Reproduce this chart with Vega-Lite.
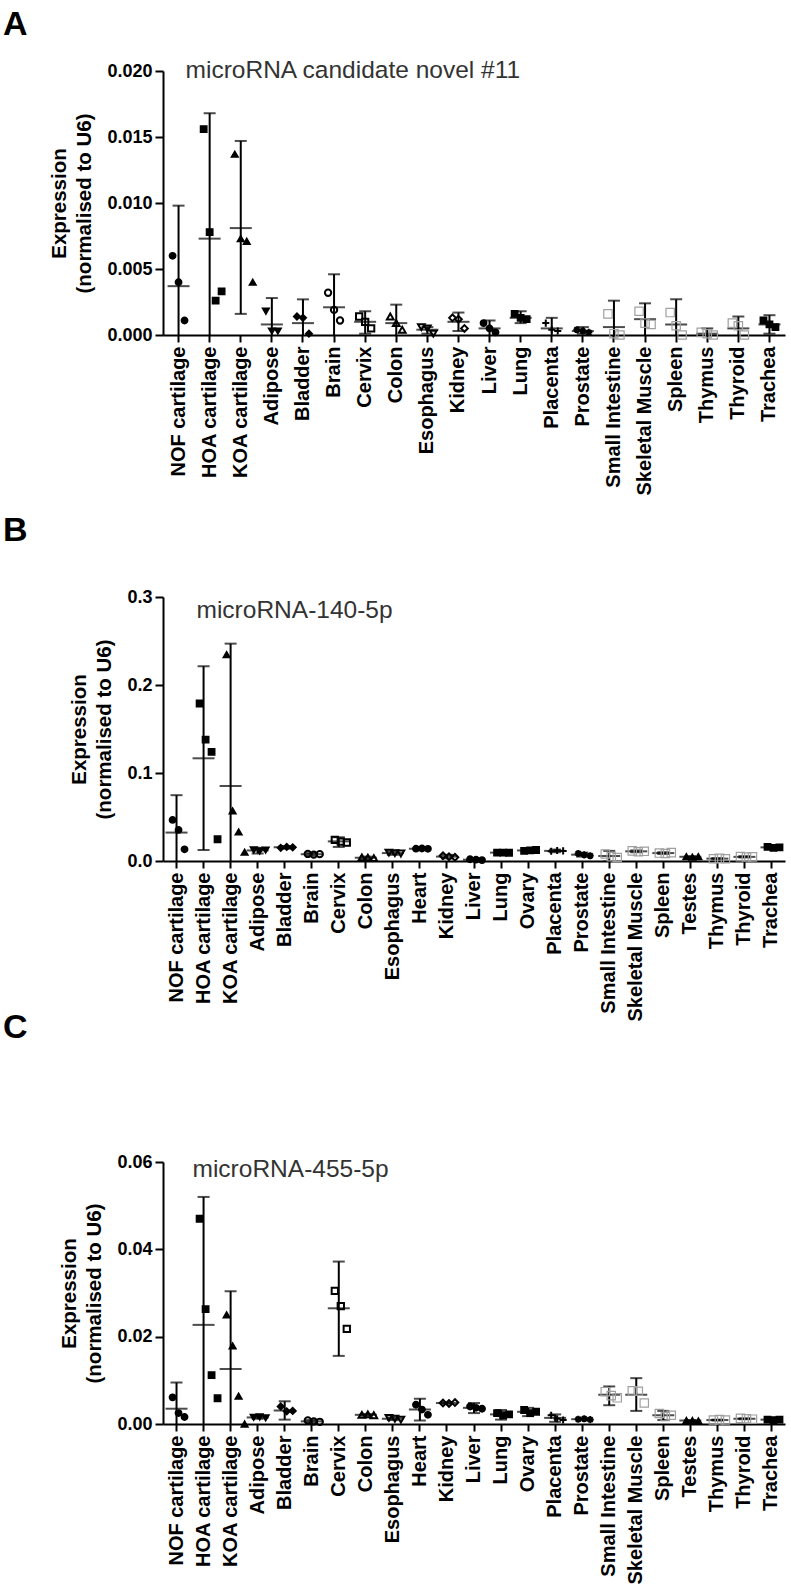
{
  "$schema": "https://vega.github.io/schema/vega-lite/v6.json",
  "padding": {"left": 3, "top": 8, "right": 3, "bottom": 3},
  "spacing": -10,
  "config": {
    "view": {"stroke": null},
    "font": "Liberation Sans",
    "axis": {"domainColor": "black", "domainWidth": 2, "tickColor": "black", "tickWidth": 2, "labelColor": "black", "labelFont": "Liberation Sans", "labelFontWeight": "bold", "titleFont": "Liberation Sans", "titleColor": "black", "grid": false},
    "title": {"font": "Liberation Sans", "color": "black"}
  },
  "datasets": {
    "sumA": [
      {"cat": "NOF cartilage", "mean": 0.0037, "lo": -0.0024, "hi": 0.0098},
      {"cat": "HOA cartilage", "mean": 0.0073, "lo": -0.0022, "hi": 0.0168},
      {"cat": "KOA cartilage", "mean": 0.0081, "lo": 0.0016, "hi": 0.0147},
      {"cat": "Adipose", "mean": 0.0008, "lo": -0.0013, "hi": 0.0028},
      {"cat": "Bladder", "mean": 0.0009, "lo": -0.0009, "hi": 0.0027},
      {"cat": "Brain", "mean": 0.0021, "lo": -0.0004, "hi": 0.0046},
      {"cat": "Cervix", "mean": 0.001, "lo": 0.0001, "hi": 0.0018},
      {"cat": "Colon", "mean": 0.0009, "lo": -0.0005, "hi": 0.0023},
      {"cat": "Esophagus", "mean": 0.0004, "lo": 0.0001, "hi": 0.0006},
      {"cat": "Kidney", "mean": 0.001, "lo": 0.0003, "hi": 0.0017},
      {"cat": "Liver", "mean": 0.0005, "lo": -0.0001, "hi": 0.0011},
      {"cat": "Lung", "mean": 0.0013, "lo": 0.0009, "hi": 0.0018},
      {"cat": "Placenta", "mean": 0.0005, "lo": -0.0003, "hi": 0.0013},
      {"cat": "Prostate", "mean": 0.0003, "lo": 0.0001, "hi": 0.0006},
      {"cat": "Small Intestine", "mean": 0.0006, "lo": -0.0015, "hi": 0.0026},
      {"cat": "Skeletal Muscle", "mean": 0.0012, "lo": -0.0001, "hi": 0.0024},
      {"cat": "Spleen", "mean": 0.0008, "lo": -0.0011, "hi": 0.0027},
      {"cat": "Thymus", "mean": 0.0001, "lo": -0.0003, "hi": 0.0005},
      {"cat": "Thyroid", "mean": 0.0005, "lo": -0.0004, "hi": 0.0014},
      {"cat": "Trachea", "mean": 0.0008, "lo": 0.0001, "hi": 0.0015}
    ],
    "ptsA": [
      {"cat": "NOF cartilage", "rep": 1, "value": 0.006}, {"cat": "NOF cartilage", "rep": 2, "value": 0.004}, {"cat": "NOF cartilage", "rep": 3, "value": 0.0011},
      {"cat": "HOA cartilage", "rep": 1, "value": 0.0156}, {"cat": "HOA cartilage", "rep": 2, "value": 0.0078}, {"cat": "HOA cartilage", "rep": 3, "value": 0.0026}, {"cat": "HOA cartilage", "rep": 4, "value": 0.0033},
      {"cat": "KOA cartilage", "rep": 1, "value": 0.0137}, {"cat": "KOA cartilage", "rep": 2, "value": 0.0073}, {"cat": "KOA cartilage", "rep": 3, "value": 0.0071}, {"cat": "KOA cartilage", "rep": 4, "value": 0.004},
      {"cat": "Adipose", "rep": 1, "value": 0.0018}, {"cat": "Adipose", "rep": 2, "value": 0.0003}, {"cat": "Adipose", "rep": 3, "value": 0.0003},
      {"cat": "Bladder", "rep": 1, "value": 0.0014}, {"cat": "Bladder", "rep": 2, "value": 0.0013}, {"cat": "Bladder", "rep": 3, "value": 0.0001},
      {"cat": "Brain", "rep": 1, "value": 0.0032}, {"cat": "Brain", "rep": 2, "value": 0.0019}, {"cat": "Brain", "rep": 3, "value": 0.0011},
      {"cat": "Cervix", "rep": 1, "value": 0.0014}, {"cat": "Cervix", "rep": 2, "value": 0.001}, {"cat": "Cervix", "rep": 3, "value": 0.0005},
      {"cat": "Colon", "rep": 1, "value": 0.0014}, {"cat": "Colon", "rep": 2, "value": 0.0009}, {"cat": "Colon", "rep": 3, "value": 0.0004},
      {"cat": "Esophagus", "rep": 1, "value": 0.0006}, {"cat": "Esophagus", "rep": 2, "value": 0.0005}, {"cat": "Esophagus", "rep": 3, "value": 0.0001},
      {"cat": "Kidney", "rep": 1, "value": 0.0013}, {"cat": "Kidney", "rep": 2, "value": 0.0012}, {"cat": "Kidney", "rep": 3, "value": 0.0005},
      {"cat": "Liver", "rep": 1, "value": 0.0009}, {"cat": "Liver", "rep": 2, "value": 0.0005}, {"cat": "Liver", "rep": 3, "value": 0.0002},
      {"cat": "Lung", "rep": 1, "value": 0.0016}, {"cat": "Lung", "rep": 2, "value": 0.0013}, {"cat": "Lung", "rep": 3, "value": 0.0012},
      {"cat": "Placenta", "rep": 1, "value": 0.0009}, {"cat": "Placenta", "rep": 2, "value": 0.0004}, {"cat": "Placenta", "rep": 3, "value": 0.0003},
      {"cat": "Prostate", "rep": 1, "value": 0.0004}, {"cat": "Prostate", "rep": 2, "value": 0.0003}, {"cat": "Prostate", "rep": 3, "value": 0.0002},
      {"cat": "Small Intestine", "rep": 1, "value": 0.0016}, {"cat": "Small Intestine", "rep": 2, "value": 0.0001}, {"cat": "Small Intestine", "rep": 3, "value": 0.0},
      {"cat": "Skeletal Muscle", "rep": 1, "value": 0.0018}, {"cat": "Skeletal Muscle", "rep": 2, "value": 0.0009}, {"cat": "Skeletal Muscle", "rep": 3, "value": 0.0008},
      {"cat": "Spleen", "rep": 1, "value": 0.0017}, {"cat": "Spleen", "rep": 2, "value": 0.0007}, {"cat": "Spleen", "rep": 3, "value": 0.0},
      {"cat": "Thymus", "rep": 1, "value": 0.0002}, {"cat": "Thymus", "rep": 2, "value": 0.0001}, {"cat": "Thymus", "rep": 3, "value": 0.0},
      {"cat": "Thyroid", "rep": 1, "value": 0.0009}, {"cat": "Thyroid", "rep": 2, "value": 0.0007}, {"cat": "Thyroid", "rep": 3, "value": 0.0},
      {"cat": "Trachea", "rep": 1, "value": 0.0011}, {"cat": "Trachea", "rep": 2, "value": 0.0008}, {"cat": "Trachea", "rep": 3, "value": 0.0006}
    ],
    "sumB": [
      {"cat": "NOF cartilage", "mean": 0.0323, "lo": -0.01, "hi": 0.0748},
      {"cat": "HOA cartilage", "mean": 0.1167, "lo": 0.0125, "hi": 0.2213},
      {"cat": "KOA cartilage", "mean": 0.0852, "lo": -0.077, "hi": 0.247},
      {"cat": "Adipose", "mean": 0.012, "lo": 0.0085, "hi": 0.015},
      {"cat": "Bladder", "mean": 0.0155, "lo": 0.014, "hi": 0.017},
      {"cat": "Brain", "mean": 0.0077, "lo": 0.006, "hi": 0.009},
      {"cat": "Cervix", "mean": 0.0223, "lo": 0.016, "hi": 0.027},
      {"cat": "Colon", "mean": 0.0037, "lo": 0.002, "hi": 0.005},
      {"cat": "Esophagus", "mean": 0.009, "lo": 0.007, "hi": 0.011},
      {"cat": "Heart", "mean": 0.014, "lo": 0.013, "hi": 0.015},
      {"cat": "Kidney", "mean": 0.005, "lo": 0.003, "hi": 0.007},
      {"cat": "Liver", "mean": 0.0015, "lo": 0.0005, "hi": 0.0025},
      {"cat": "Lung", "mean": 0.0095, "lo": 0.009, "hi": 0.01},
      {"cat": "Ovary", "mean": 0.012, "lo": 0.011, "hi": 0.013},
      {"cat": "Placenta", "mean": 0.0115, "lo": 0.01, "hi": 0.013},
      {"cat": "Prostate", "mean": 0.0072, "lo": 0.005, "hi": 0.0095},
      {"cat": "Small Intestine", "mean": 0.0057, "lo": -0.0005, "hi": 0.0115},
      {"cat": "Skeletal Muscle", "mean": 0.011, "lo": 0.01, "hi": 0.012},
      {"cat": "Spleen", "mean": 0.009, "lo": 0.008, "hi": 0.01},
      {"cat": "Testes", "mean": 0.0048, "lo": 0.004, "hi": 0.0055},
      {"cat": "Thymus", "mean": 0.0027, "lo": 0.002, "hi": 0.0033},
      {"cat": "Thyroid", "mean": 0.0047, "lo": 0.004, "hi": 0.0055},
      {"cat": "Trachea", "mean": 0.0155, "lo": 0.0145, "hi": 0.0165}
    ],
    "ptsB": [
      {"cat": "NOF cartilage", "rep": 1, "value": 0.0467}, {"cat": "NOF cartilage", "rep": 2, "value": 0.0353}, {"cat": "NOF cartilage", "rep": 3, "value": 0.0133},
      {"cat": "HOA cartilage", "rep": 1, "value": 0.179}, {"cat": "HOA cartilage", "rep": 2, "value": 0.138}, {"cat": "HOA cartilage", "rep": 3, "value": 0.124}, {"cat": "HOA cartilage", "rep": 4, "value": 0.0247},
      {"cat": "KOA cartilage", "rep": 1, "value": 0.2346}, {"cat": "KOA cartilage", "rep": 2, "value": 0.057}, {"cat": "KOA cartilage", "rep": 3, "value": 0.033}, {"cat": "KOA cartilage", "rep": 4, "value": 0.01},
      {"cat": "Adipose", "rep": 1, "value": 0.0125}, {"cat": "Adipose", "rep": 2, "value": 0.0112}, {"cat": "Adipose", "rep": 3, "value": 0.0123},
      {"cat": "Bladder", "rep": 1, "value": 0.015}, {"cat": "Bladder", "rep": 2, "value": 0.016}, {"cat": "Bladder", "rep": 3, "value": 0.0155},
      {"cat": "Brain", "rep": 1, "value": 0.008}, {"cat": "Brain", "rep": 2, "value": 0.0072}, {"cat": "Brain", "rep": 3, "value": 0.0078},
      {"cat": "Cervix", "rep": 1, "value": 0.024}, {"cat": "Cervix", "rep": 2, "value": 0.022}, {"cat": "Cervix", "rep": 3, "value": 0.021},
      {"cat": "Colon", "rep": 1, "value": 0.004}, {"cat": "Colon", "rep": 2, "value": 0.0038}, {"cat": "Colon", "rep": 3, "value": 0.0033},
      {"cat": "Esophagus", "rep": 1, "value": 0.0095}, {"cat": "Esophagus", "rep": 2, "value": 0.009}, {"cat": "Esophagus", "rep": 3, "value": 0.0085},
      {"cat": "Heart", "rep": 1, "value": 0.014}, {"cat": "Heart", "rep": 2, "value": 0.0142}, {"cat": "Heart", "rep": 3, "value": 0.0138},
      {"cat": "Kidney", "rep": 1, "value": 0.006}, {"cat": "Kidney", "rep": 2, "value": 0.0048}, {"cat": "Kidney", "rep": 3, "value": 0.0042},
      {"cat": "Liver", "rep": 1, "value": 0.002}, {"cat": "Liver", "rep": 2, "value": 0.0015}, {"cat": "Liver", "rep": 3, "value": 0.001},
      {"cat": "Lung", "rep": 1, "value": 0.0095}, {"cat": "Lung", "rep": 2, "value": 0.0096}, {"cat": "Lung", "rep": 3, "value": 0.0094},
      {"cat": "Ovary", "rep": 1, "value": 0.0115}, {"cat": "Ovary", "rep": 2, "value": 0.012}, {"cat": "Ovary", "rep": 3, "value": 0.0125},
      {"cat": "Placenta", "rep": 1, "value": 0.011}, {"cat": "Placenta", "rep": 2, "value": 0.012}, {"cat": "Placenta", "rep": 3, "value": 0.0115},
      {"cat": "Prostate", "rep": 1, "value": 0.0085}, {"cat": "Prostate", "rep": 2, "value": 0.007}, {"cat": "Prostate", "rep": 3, "value": 0.006},
      {"cat": "Small Intestine", "rep": 1, "value": 0.008}, {"cat": "Small Intestine", "rep": 2, "value": 0.005}, {"cat": "Small Intestine", "rep": 3, "value": 0.004},
      {"cat": "Skeletal Muscle", "rep": 1, "value": 0.0115}, {"cat": "Skeletal Muscle", "rep": 2, "value": 0.0105}, {"cat": "Skeletal Muscle", "rep": 3, "value": 0.011},
      {"cat": "Spleen", "rep": 1, "value": 0.009}, {"cat": "Spleen", "rep": 2, "value": 0.0085}, {"cat": "Spleen", "rep": 3, "value": 0.0095},
      {"cat": "Testes", "rep": 1, "value": 0.005}, {"cat": "Testes", "rep": 2, "value": 0.0045}, {"cat": "Testes", "rep": 3, "value": 0.005},
      {"cat": "Thymus", "rep": 1, "value": 0.0025}, {"cat": "Thymus", "rep": 2, "value": 0.003}, {"cat": "Thymus", "rep": 3, "value": 0.0025},
      {"cat": "Thyroid", "rep": 1, "value": 0.005}, {"cat": "Thyroid", "rep": 2, "value": 0.0045}, {"cat": "Thyroid", "rep": 3, "value": 0.0047},
      {"cat": "Trachea", "rep": 1, "value": 0.016}, {"cat": "Trachea", "rep": 2, "value": 0.015}, {"cat": "Trachea", "rep": 3, "value": 0.0155}
    ],
    "sumC": [
      {"cat": "NOF cartilage", "mean": 0.0035, "lo": -0.0025, "hi": 0.0095},
      {"cat": "HOA cartilage", "mean": 0.0227, "lo": -0.0066, "hi": 0.052},
      {"cat": "KOA cartilage", "mean": 0.0126, "lo": -0.0052, "hi": 0.0304},
      {"cat": "Adipose", "mean": 0.0015, "lo": 0.0012, "hi": 0.0018},
      {"cat": "Bladder", "mean": 0.0031, "lo": 0.001, "hi": 0.0052},
      {"cat": "Brain", "mean": 0.0006, "lo": 0.0003, "hi": 0.0009},
      {"cat": "Cervix", "mean": 0.0265, "lo": 0.0156, "hi": 0.0372},
      {"cat": "Colon", "mean": 0.0021, "lo": 0.0019, "hi": 0.0023},
      {"cat": "Esophagus", "mean": 0.0012, "lo": 0.0009, "hi": 0.0015},
      {"cat": "Heart", "mean": 0.0033, "lo": 0.0008, "hi": 0.0058},
      {"cat": "Kidney", "mean": 0.0048, "lo": 0.0046, "hi": 0.005},
      {"cat": "Liver", "mean": 0.0037, "lo": 0.0025, "hi": 0.0048},
      {"cat": "Lung", "mean": 0.0022, "lo": 0.001, "hi": 0.0032},
      {"cat": "Ovary", "mean": 0.0028, "lo": 0.0018, "hi": 0.0037},
      {"cat": "Placenta", "mean": 0.0014, "lo": 0.0005, "hi": 0.0022},
      {"cat": "Prostate", "mean": 0.0011, "lo": 0.0009, "hi": 0.0013},
      {"cat": "Small Intestine", "mean": 0.0067, "lo": 0.0043, "hi": 0.0086},
      {"cat": "Skeletal Muscle", "mean": 0.0067, "lo": 0.003, "hi": 0.0105},
      {"cat": "Spleen", "mean": 0.002, "lo": 0.0009, "hi": 0.003},
      {"cat": "Testes", "mean": 0.0008, "lo": 0.0007, "hi": 0.0009},
      {"cat": "Thymus", "mean": 0.0009, "lo": 0.0008, "hi": 0.001},
      {"cat": "Thyroid", "mean": 0.0012, "lo": 0.0011, "hi": 0.0013},
      {"cat": "Trachea", "mean": 0.001, "lo": 0.0009, "hi": 0.0011}
    ],
    "ptsC": [
      {"cat": "NOF cartilage", "rep": 1, "value": 0.0061}, {"cat": "NOF cartilage", "rep": 2, "value": 0.0025}, {"cat": "NOF cartilage", "rep": 3, "value": 0.0016},
      {"cat": "HOA cartilage", "rep": 1, "value": 0.047}, {"cat": "HOA cartilage", "rep": 2, "value": 0.0263}, {"cat": "HOA cartilage", "rep": 3, "value": 0.0112}, {"cat": "HOA cartilage", "rep": 4, "value": 0.0059},
      {"cat": "KOA cartilage", "rep": 1, "value": 0.025}, {"cat": "KOA cartilage", "rep": 2, "value": 0.0179}, {"cat": "KOA cartilage", "rep": 3, "value": 0.0064}, {"cat": "KOA cartilage", "rep": 4, "value": 0.0},
      {"cat": "Adipose", "rep": 1, "value": 0.0015}, {"cat": "Adipose", "rep": 2, "value": 0.0016}, {"cat": "Adipose", "rep": 3, "value": 0.0014},
      {"cat": "Bladder", "rep": 1, "value": 0.004}, {"cat": "Bladder", "rep": 2, "value": 0.0029}, {"cat": "Bladder", "rep": 3, "value": 0.003},
      {"cat": "Brain", "rep": 1, "value": 0.0008}, {"cat": "Brain", "rep": 2, "value": 0.0006}, {"cat": "Brain", "rep": 3, "value": 0.0005},
      {"cat": "Cervix", "rep": 1, "value": 0.0305}, {"cat": "Cervix", "rep": 2, "value": 0.027}, {"cat": "Cervix", "rep": 3, "value": 0.0218},
      {"cat": "Colon", "rep": 1, "value": 0.0021}, {"cat": "Colon", "rep": 2, "value": 0.0022}, {"cat": "Colon", "rep": 3, "value": 0.002},
      {"cat": "Esophagus", "rep": 1, "value": 0.0014}, {"cat": "Esophagus", "rep": 2, "value": 0.0012}, {"cat": "Esophagus", "rep": 3, "value": 0.001},
      {"cat": "Heart", "rep": 1, "value": 0.0044}, {"cat": "Heart", "rep": 2, "value": 0.0033}, {"cat": "Heart", "rep": 3, "value": 0.0021},
      {"cat": "Kidney", "rep": 1, "value": 0.0048}, {"cat": "Kidney", "rep": 2, "value": 0.0047}, {"cat": "Kidney", "rep": 3, "value": 0.0049},
      {"cat": "Liver", "rep": 1, "value": 0.004}, {"cat": "Liver", "rep": 2, "value": 0.0037}, {"cat": "Liver", "rep": 3, "value": 0.0035},
      {"cat": "Lung", "rep": 1, "value": 0.0025}, {"cat": "Lung", "rep": 2, "value": 0.002}, {"cat": "Lung", "rep": 3, "value": 0.0022},
      {"cat": "Ovary", "rep": 1, "value": 0.0032}, {"cat": "Ovary", "rep": 2, "value": 0.0025}, {"cat": "Ovary", "rep": 3, "value": 0.0028},
      {"cat": "Placenta", "rep": 1, "value": 0.002}, {"cat": "Placenta", "rep": 2, "value": 0.0012}, {"cat": "Placenta", "rep": 3, "value": 0.0009},
      {"cat": "Prostate", "rep": 1, "value": 0.0011}, {"cat": "Prostate", "rep": 2, "value": 0.0012}, {"cat": "Prostate", "rep": 3, "value": 0.001},
      {"cat": "Small Intestine", "rep": 1, "value": 0.0074}, {"cat": "Small Intestine", "rep": 2, "value": 0.0065}, {"cat": "Small Intestine", "rep": 3, "value": 0.006},
      {"cat": "Skeletal Muscle", "rep": 1, "value": 0.0076}, {"cat": "Skeletal Muscle", "rep": 2, "value": 0.0075}, {"cat": "Skeletal Muscle", "rep": 3, "value": 0.0048},
      {"cat": "Spleen", "rep": 1, "value": 0.0024}, {"cat": "Spleen", "rep": 2, "value": 0.0017}, {"cat": "Spleen", "rep": 3, "value": 0.002},
      {"cat": "Testes", "rep": 1, "value": 0.0008}, {"cat": "Testes", "rep": 2, "value": 0.0008}, {"cat": "Testes", "rep": 3, "value": 0.0007},
      {"cat": "Thymus", "rep": 1, "value": 0.0009}, {"cat": "Thymus", "rep": 2, "value": 0.001}, {"cat": "Thymus", "rep": 3, "value": 0.0009},
      {"cat": "Thyroid", "rep": 1, "value": 0.0013}, {"cat": "Thyroid", "rep": 2, "value": 0.0012}, {"cat": "Thyroid", "rep": 3, "value": 0.0011},
      {"cat": "Trachea", "rep": 1, "value": 0.001}, {"cat": "Trachea", "rep": 2, "value": 0.0009}, {"cat": "Trachea", "rep": 3, "value": 0.001}
    ]
  },
  "vconcat": [
    {
      "title": {"text": "A", "anchor": "start", "frame": "group", "fontSize": 34, "fontWeight": "bold", "dx": -160, "offset": 16},
      "width": 622, "height": 264,
      "encoding": {
        "x": {"field": "cat", "type": "nominal", "title": " ",
          "scale": {"type": "band", "paddingInner": 0, "paddingOuter": 0, "domain": ["NOF cartilage","HOA cartilage","KOA cartilage","Adipose","Bladder","Brain","Cervix","Colon","Esophagus","Kidney","Liver","Lung","Placenta","Prostate","Small Intestine","Skeletal Muscle","Spleen","Thymus","Thyroid","Trachea"]},
          "axis": {"labelAngle": -90, "labelFontSize": 20, "tickSize": 7, "labelPadding": 4, "labelOverlap": false, "labelLimit": 0, "titleFontSize": 9, "titlePadding": 20}}
      },
      "layer": [
        {"data": {"name": "sumA"}, "mark": {"type": "rule", "strokeWidth": 2, "color": "black", "clip": true},
          "encoding": {"y": {"field": "lo", "type": "quantitative", "title": ["Expression", "(normalised to U6)"], "scale": {"domain": [0, 0.02], "nice": false, "zero": false},
            "axis": {"values": [0, 0.005, 0.01, 0.015, 0.02], "format": ".3f", "labelFontSize": 18, "tickSize": 8, "labelPadding": 3, "titleFontSize": 20.5, "titleFontWeight": "bold", "titlePadding": 12, "titleLineHeight": 25}},
            "y2": {"field": "hi"}}},
        {"data": {"name": "sumA"}, "mark": {"type": "tick", "orient": "horizontal", "size": 12, "thickness": 2, "color": "black", "clip": true},
          "encoding": {"y": {"field": "hi", "type": "quantitative", "title": ["Expression", "(normalised to U6)"], "scale": {"domain": [0, 0.02], "nice": false, "zero": false}}}},
        {"data": {"name": "sumA"}, "mark": {"type": "tick", "orient": "horizontal", "size": 12, "thickness": 2, "color": "black", "clip": true},
          "encoding": {"y": {"field": "lo", "type": "quantitative", "title": ["Expression", "(normalised to U6)"], "scale": {"domain": [0, 0.02], "nice": false, "zero": false}}}},
        {"data": {"name": "sumA"}, "mark": {"type": "tick", "orient": "horizontal", "size": 22, "thickness": 2, "color": "black"},
          "encoding": {"y": {"field": "mean", "type": "quantitative", "title": ["Expression", "(normalised to U6)"], "scale": {"domain": [0, 0.02], "nice": false, "zero": false}}}},
        {"data": {"name": "ptsA"}, "mark": {"type": "point", "opacity": 1},
          "encoding": {
            "y": {"field": "value", "type": "quantitative", "title": ["Expression", "(normalised to U6)"], "scale": {"domain": [0, 0.02], "nice": false, "zero": false}},
            "xOffset": {"field": "rep", "type": "ordinal", "scale": {"domain": [0, 1, 2, 3, 4], "paddingInner": 0, "paddingOuter": 0.6}},
            "shape": {"field": "cat", "type": "nominal", "legend": null,
              "scale": {"domain": ["NOF cartilage","HOA cartilage","KOA cartilage","Adipose","Bladder","Brain","Cervix","Colon","Esophagus","Kidney","Liver","Lung","Placenta","Prostate","Small Intestine","Skeletal Muscle","Spleen","Thymus","Thyroid","Trachea"],
                "range": ["circle","square","triangle-up","triangle-down","diamond","circle","square","triangle-up","triangle-down","diamond","circle","square","M-1,0H1M0,-1V1","M-1,0H1M0,-1V1M-0.7,-0.7L0.7,0.7M-0.7,0.7L0.7,-0.7","square","square","square","square","square","square"]}},
            "size": {"field": "cat", "type": "nominal", "legend": null,
              "scale": {"type": "ordinal", "domain": ["NOF cartilage","HOA cartilage","KOA cartilage","Adipose","Bladder","Brain","Cervix","Colon","Esophagus","Kidney","Liver","Lung","Placenta","Prostate","Small Intestine","Skeletal Muscle","Spleen","Thymus","Thyroid","Trachea"],
                "range": [40,40,45,45,45,40,40,45,45,45,40,40,50,50,70,70,70,70,70,40]}},
            "strokeWidth": {"field": "cat", "type": "nominal", "legend": null,
              "scale": {"type": "ordinal", "domain": ["NOF cartilage","HOA cartilage","KOA cartilage","Adipose","Bladder","Brain","Cervix","Colon","Esophagus","Kidney","Liver","Lung","Placenta","Prostate","Small Intestine","Skeletal Muscle","Spleen","Thymus","Thyroid","Trachea"],
                "range": [1.5,1.5,1.5,1.5,1.5,2,2,2,2,2,1.5,1.5,2,2,1.2,1.2,1.2,1.2,1.2,1.5]}},
            "fill": {"field": "cat", "type": "nominal", "legend": null,
              "scale": {"domain": ["NOF cartilage","HOA cartilage","KOA cartilage","Adipose","Bladder","Brain","Cervix","Colon","Esophagus","Kidney","Liver","Lung","Placenta","Prostate","Small Intestine","Skeletal Muscle","Spleen","Thymus","Thyroid","Trachea"],
                "range": ["black","black","black","black","black","transparent","transparent","transparent","transparent","transparent","black","black","transparent","transparent","transparent","transparent","transparent","transparent","transparent","black"]}},
            "stroke": {"field": "cat", "type": "nominal", "legend": null,
              "scale": {"domain": ["NOF cartilage","HOA cartilage","KOA cartilage","Adipose","Bladder","Brain","Cervix","Colon","Esophagus","Kidney","Liver","Lung","Placenta","Prostate","Small Intestine","Skeletal Muscle","Spleen","Thymus","Thyroid","Trachea"],
                "range": ["black","black","black","black","black","black","black","black","black","black","black","black","black","black","#a0a0a0","#a0a0a0","#a0a0a0","#a0a0a0","#a0a0a0","black"]}}
          }},
        {"data": {"values": [{"label": "microRNA candidate novel #11"}]},
          "mark": {"type": "text", "align": "left", "baseline": "alphabetic", "dx": 7, "dy": 7, "fontSize": 24.5, "font": "Liberation Sans", "color": "#333333"},
          "encoding": {"x": {"datum": "NOF cartilage"}, "y": {"datum": 0.02}, "text": {"field": "label"}}}
      ]
    },
    {
      "title": {"text": "B", "anchor": "start", "frame": "group", "fontSize": 34, "fontWeight": "bold", "dx": -160, "offset": 40},
      "width": 622, "height": 264,
      "encoding": {
        "x": {"field": "cat", "type": "nominal", "title": null,
          "scale": {"type": "band", "paddingInner": 0, "paddingOuter": 0, "domain": ["NOF cartilage","HOA cartilage","KOA cartilage","Adipose","Bladder","Brain","Cervix","Colon","Esophagus","Heart","Kidney","Liver","Lung","Ovary","Placenta","Prostate","Small Intestine","Skeletal Muscle","Spleen","Testes","Thymus","Thyroid","Trachea"]},
          "axis": {"labelAngle": -90, "labelFontSize": 20, "tickSize": 7, "labelPadding": 4, "labelOverlap": false, "labelLimit": 0}}
      },
      "layer": [
        {"data": {"name": "sumB"}, "mark": {"type": "rule", "strokeWidth": 2, "color": "black", "clip": true},
          "encoding": {"y": {"field": "lo", "type": "quantitative", "title": ["Expression", "(normalised to U6)"], "scale": {"domain": [0, 0.3], "nice": false, "zero": false},
            "axis": {"values": [0, 0.1, 0.2, 0.3], "format": ".1f", "labelFontSize": 18, "tickSize": 8, "labelPadding": 3, "titleFontSize": 20.5, "titleFontWeight": "bold", "titlePadding": 12, "titleLineHeight": 25}},
            "y2": {"field": "hi"}}},
        {"data": {"name": "sumB"}, "mark": {"type": "tick", "orient": "horizontal", "size": 12, "thickness": 2, "color": "black", "clip": true},
          "encoding": {"y": {"field": "hi", "type": "quantitative", "title": ["Expression", "(normalised to U6)"], "scale": {"domain": [0, 0.3], "nice": false, "zero": false}}}},
        {"data": {"name": "sumB"}, "mark": {"type": "tick", "orient": "horizontal", "size": 12, "thickness": 2, "color": "black", "clip": true},
          "encoding": {"y": {"field": "lo", "type": "quantitative", "title": ["Expression", "(normalised to U6)"], "scale": {"domain": [0, 0.3], "nice": false, "zero": false}}}},
        {"data": {"name": "sumB"}, "mark": {"type": "tick", "orient": "horizontal", "size": 22, "thickness": 2, "color": "black"},
          "encoding": {"y": {"field": "mean", "type": "quantitative", "title": ["Expression", "(normalised to U6)"], "scale": {"domain": [0, 0.3], "nice": false, "zero": false}}}},
        {"data": {"name": "ptsB"}, "mark": {"type": "point", "opacity": 1},
          "encoding": {
            "y": {"field": "value", "type": "quantitative", "title": ["Expression", "(normalised to U6)"], "scale": {"domain": [0, 0.3], "nice": false, "zero": false}},
            "xOffset": {"field": "rep", "type": "ordinal", "scale": {"domain": [0, 1, 2, 3, 4], "paddingInner": 0, "paddingOuter": 0.6}},
            "shape": {"field": "cat", "type": "nominal", "legend": null,
              "scale": {"domain": ["NOF cartilage","HOA cartilage","KOA cartilage","Adipose","Bladder","Brain","Cervix","Colon","Esophagus","Heart","Kidney","Liver","Lung","Ovary","Placenta","Prostate","Small Intestine","Skeletal Muscle","Spleen","Testes","Thymus","Thyroid","Trachea"],
                "range": ["circle","square","triangle-up","triangle-down","diamond","circle","square","triangle-up","triangle-down","diamond","circle","square","M-1,0H1M0,-1V1","M-1,0H1M0,-1V1M-0.7,-0.7L0.7,0.7M-0.7,0.7L0.7,-0.7","square","square","square","square","square","square","square","square","square"]}},
            "size": {"field": "cat", "type": "nominal", "legend": null,
              "scale": {"type": "ordinal", "domain": ["NOF cartilage","HOA cartilage","KOA cartilage","Adipose","Bladder","Brain","Cervix","Colon","Esophagus","Heart","Kidney","Liver","Lung","Ovary","Placenta","Prostate","Small Intestine","Skeletal Muscle","Spleen","Testes","Thymus","Thyroid","Trachea"],
                "range": [40,40,45,45,45,40,40,45,45,45,40,40,50,50,70,70,70,70,70,40,40,40,40]}},
            "strokeWidth": {"field": "cat", "type": "nominal", "legend": null,
              "scale": {"type": "ordinal", "domain": ["NOF cartilage","HOA cartilage","KOA cartilage","Adipose","Bladder","Brain","Cervix","Colon","Esophagus","Heart","Kidney","Liver","Lung","Ovary","Placenta","Prostate","Small Intestine","Skeletal Muscle","Spleen","Testes","Thymus","Thyroid","Trachea"],
                "range": [1.5,1.5,1.5,1.5,1.5,2,2,2,2,2,1.5,1.5,2,2,1.2,1.2,1.2,1.2,1.2,1.5,1.5,1.5,1.5]}},
            "fill": {"field": "cat", "type": "nominal", "legend": null,
              "scale": {"domain": ["NOF cartilage","HOA cartilage","KOA cartilage","Adipose","Bladder","Brain","Cervix","Colon","Esophagus","Heart","Kidney","Liver","Lung","Ovary","Placenta","Prostate","Small Intestine","Skeletal Muscle","Spleen","Testes","Thymus","Thyroid","Trachea"],
                "range": ["black","black","black","black","black","transparent","transparent","transparent","transparent","transparent","black","black","transparent","transparent","transparent","transparent","transparent","transparent","transparent","black","black","black","black"]}},
            "stroke": {"field": "cat", "type": "nominal", "legend": null,
              "scale": {"domain": ["NOF cartilage","HOA cartilage","KOA cartilage","Adipose","Bladder","Brain","Cervix","Colon","Esophagus","Heart","Kidney","Liver","Lung","Ovary","Placenta","Prostate","Small Intestine","Skeletal Muscle","Spleen","Testes","Thymus","Thyroid","Trachea"],
                "range": ["black","black","black","black","black","black","black","black","black","black","black","black","black","black","#a0a0a0","#a0a0a0","#a0a0a0","#a0a0a0","#a0a0a0","black","black","black","black"]}}
          }},
        {"data": {"values": [{"label": "microRNA-140-5p"}]},
          "mark": {"type": "text", "align": "left", "baseline": "alphabetic", "dx": 20, "dy": 21, "fontSize": 24.5, "font": "Liberation Sans", "color": "#333333"},
          "encoding": {"x": {"datum": "NOF cartilage"}, "y": {"datum": 0.3}, "text": {"field": "label"}}}
      ]
    },
    {
      "title": {"text": "C", "anchor": "start", "frame": "group", "fontSize": 34, "fontWeight": "bold", "dx": -160, "offset": 108},
      "width": 622, "height": 262,
      "encoding": {
        "x": {"field": "cat", "type": "nominal", "title": null,
          "scale": {"type": "band", "paddingInner": 0, "paddingOuter": 0, "domain": ["NOF cartilage","HOA cartilage","KOA cartilage","Adipose","Bladder","Brain","Cervix","Colon","Esophagus","Heart","Kidney","Liver","Lung","Ovary","Placenta","Prostate","Small Intestine","Skeletal Muscle","Spleen","Testes","Thymus","Thyroid","Trachea"]},
          "axis": {"labelAngle": -90, "labelFontSize": 20, "tickSize": 7, "labelPadding": 4, "labelOverlap": false, "labelLimit": 0}}
      },
      "layer": [
        {"data": {"name": "sumC"}, "mark": {"type": "rule", "strokeWidth": 2, "color": "black", "clip": true},
          "encoding": {"y": {"field": "lo", "type": "quantitative", "title": ["Expression", "(normalised to U6)"], "scale": {"domain": [0, 0.06], "nice": false, "zero": false},
            "axis": {"values": [0, 0.02, 0.04, 0.06], "format": ".2f", "labelFontSize": 18, "tickSize": 8, "labelPadding": 3, "titleFontSize": 20.5, "titleFontWeight": "bold", "titlePadding": 12, "titleLineHeight": 25}},
            "y2": {"field": "hi"}}},
        {"data": {"name": "sumC"}, "mark": {"type": "tick", "orient": "horizontal", "size": 12, "thickness": 2, "color": "black", "clip": true},
          "encoding": {"y": {"field": "hi", "type": "quantitative", "title": ["Expression", "(normalised to U6)"], "scale": {"domain": [0, 0.06], "nice": false, "zero": false}}}},
        {"data": {"name": "sumC"}, "mark": {"type": "tick", "orient": "horizontal", "size": 12, "thickness": 2, "color": "black", "clip": true},
          "encoding": {"y": {"field": "lo", "type": "quantitative", "title": ["Expression", "(normalised to U6)"], "scale": {"domain": [0, 0.06], "nice": false, "zero": false}}}},
        {"data": {"name": "sumC"}, "mark": {"type": "tick", "orient": "horizontal", "size": 22, "thickness": 2, "color": "black"},
          "encoding": {"y": {"field": "mean", "type": "quantitative", "title": ["Expression", "(normalised to U6)"], "scale": {"domain": [0, 0.06], "nice": false, "zero": false}}}},
        {"data": {"name": "ptsC"}, "mark": {"type": "point", "opacity": 1},
          "encoding": {
            "y": {"field": "value", "type": "quantitative", "title": ["Expression", "(normalised to U6)"], "scale": {"domain": [0, 0.06], "nice": false, "zero": false}},
            "xOffset": {"field": "rep", "type": "ordinal", "scale": {"domain": [0, 1, 2, 3, 4], "paddingInner": 0, "paddingOuter": 0.6}},
            "shape": {"field": "cat", "type": "nominal", "legend": null,
              "scale": {"domain": ["NOF cartilage","HOA cartilage","KOA cartilage","Adipose","Bladder","Brain","Cervix","Colon","Esophagus","Heart","Kidney","Liver","Lung","Ovary","Placenta","Prostate","Small Intestine","Skeletal Muscle","Spleen","Testes","Thymus","Thyroid","Trachea"],
                "range": ["circle","square","triangle-up","triangle-down","diamond","circle","square","triangle-up","triangle-down","diamond","circle","square","M-1,0H1M0,-1V1","M-1,0H1M0,-1V1M-0.7,-0.7L0.7,0.7M-0.7,0.7L0.7,-0.7","square","square","square","square","square","square","square","square","square"]}},
            "size": {"field": "cat", "type": "nominal", "legend": null,
              "scale": {"type": "ordinal", "domain": ["NOF cartilage","HOA cartilage","KOA cartilage","Adipose","Bladder","Brain","Cervix","Colon","Esophagus","Heart","Kidney","Liver","Lung","Ovary","Placenta","Prostate","Small Intestine","Skeletal Muscle","Spleen","Testes","Thymus","Thyroid","Trachea"],
                "range": [40,40,45,45,45,40,40,45,45,45,40,40,50,50,70,70,70,70,70,40,40,40,40]}},
            "strokeWidth": {"field": "cat", "type": "nominal", "legend": null,
              "scale": {"type": "ordinal", "domain": ["NOF cartilage","HOA cartilage","KOA cartilage","Adipose","Bladder","Brain","Cervix","Colon","Esophagus","Heart","Kidney","Liver","Lung","Ovary","Placenta","Prostate","Small Intestine","Skeletal Muscle","Spleen","Testes","Thymus","Thyroid","Trachea"],
                "range": [1.5,1.5,1.5,1.5,1.5,2,2,2,2,2,1.5,1.5,2,2,1.2,1.2,1.2,1.2,1.2,1.5,1.5,1.5,1.5]}},
            "fill": {"field": "cat", "type": "nominal", "legend": null,
              "scale": {"domain": ["NOF cartilage","HOA cartilage","KOA cartilage","Adipose","Bladder","Brain","Cervix","Colon","Esophagus","Heart","Kidney","Liver","Lung","Ovary","Placenta","Prostate","Small Intestine","Skeletal Muscle","Spleen","Testes","Thymus","Thyroid","Trachea"],
                "range": ["black","black","black","black","black","transparent","transparent","transparent","transparent","transparent","black","black","transparent","transparent","transparent","transparent","transparent","transparent","transparent","black","black","black","black"]}},
            "stroke": {"field": "cat", "type": "nominal", "legend": null,
              "scale": {"domain": ["NOF cartilage","HOA cartilage","KOA cartilage","Adipose","Bladder","Brain","Cervix","Colon","Esophagus","Heart","Kidney","Liver","Lung","Ovary","Placenta","Prostate","Small Intestine","Skeletal Muscle","Spleen","Testes","Thymus","Thyroid","Trachea"],
                "range": ["black","black","black","black","black","black","black","black","black","black","black","black","black","black","#a0a0a0","#a0a0a0","#a0a0a0","#a0a0a0","#a0a0a0","black","black","black","black"]}}
          }},
        {"data": {"values": [{"label": "microRNA-455-5p"}]},
          "mark": {"type": "text", "align": "left", "baseline": "alphabetic", "dx": 16, "dy": 15, "fontSize": 24.5, "font": "Liberation Sans", "color": "#333333"},
          "encoding": {"x": {"datum": "NOF cartilage"}, "y": {"datum": 0.06}, "text": {"field": "label"}}}
      ]
    }
  ]
}
